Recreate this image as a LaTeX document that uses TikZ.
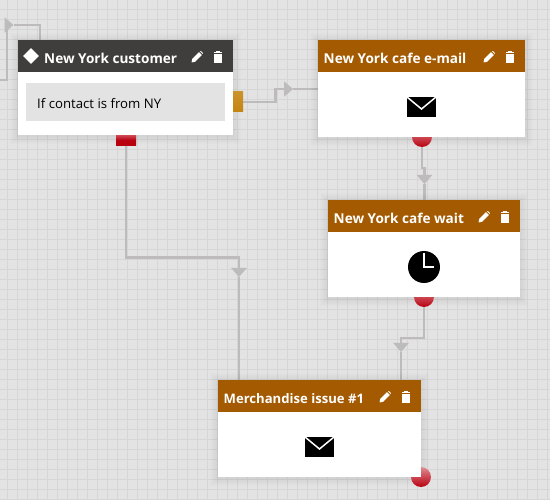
\documentclass[tikz,border=0pt]{standalone}
\usepackage{fontspec}
\setmainfont{Open Sans}
\usetikzlibrary{arrows.meta,shapes.geometric}
\definecolor{sheet}{HTML}{E3E3E3}
\definecolor{gridline}{HTML}{D6D6D6}
\definecolor{wiregray}{HTML}{BDBBBB}
\definecolor{headdark}{HTML}{403E3D}
\definecolor{headbrown}{HTML}{A45A00}
\definecolor{portred}{HTML}{B8000F}
\definecolor{portamber}{HTML}{C4840F}
\pgfdeclarelayer{back}
\pgfdeclarelayer{wires}
\pgfsetlayers{back,wires,main}
\tikzset{
  cardbody/.style={anchor=north west, fill=white, inner sep=0pt, minimum height=97pt},
  cardhead/.style={anchor=north west, inner sep=0pt, minimum height=32pt},
  cardtitle/.style={anchor=west, inner sep=0pt, text=white, font=\fontsize{13.6}{15}\selectfont\bfseries},
  roundport/.style={circle, inner sep=0pt, minimum size=20pt, top color=portred!45!white, bottom color=portred},
  wire/.style={draw=wiregray, line width=2.3pt},
  wiretip/.style={wire, -{Triangle[length=9pt,width=15pt]}},
  pics/pencil/.style={code={
    \fill[white] (-5.5,5.5) -- (-4.8,2) -- (2,-4.8) -- (4.8,-2) -- (-2,4.8) -- cycle;
    \fill[white] (2.9,-5.6) -- (3.9,-6) -- (6,-3.9) -- (5.6,-2.9) -- cycle;
  }},
  pics/trash/.style={code={
    \fill[white] (-3.7,-3.4) rectangle (3.7,6);
    \fill[white] (-4.4,-5.2) rectangle (4.4,-4.2);
    \fill[white] (-1.6,-6.2) rectangle (1.6,-5);
  }},
  pics/envelope/.style={code={
    \fill[black] (0,0) rectangle (29,20);
    \draw[white, line width=1.5pt] (0,0) -- (14.5,12) -- (29,0);
  }}
}
\newcommand{\cardshadow}[4]{%
  \foreach \grow in {1,2,...,8}
    \fill[black, opacity=0.009] (#1-\grow,#2-\grow+1) rectangle (#3+\grow,#4+\grow+1);
}
\begin{document}
\begin{tikzpicture}[x=1pt, y=-1pt]
  \useasboundingbox (0,0) rectangle (550,500);
  \begin{pgfonlayer}{back}
    \fill[sheet] (0,0) rectangle (550,500);
    \foreach \gx in {7.5,17.5,...,547.5}
      \draw[gridline, line width=1pt] (\gx,0) -- (\gx,500);
    \foreach \gy in {9.5,19.5,...,499.5}
      \draw[gridline, line width=1pt] (0,\gy) -- (550,\gy);
  \end{pgfonlayer}

  \cardshadow{18}{40}{233}{135}
  \cardshadow{318}{40}{525}{137}
  \cardshadow{328}{200}{520}{297}
  \cardshadow{218}{380}{421}{477}

  % ports
  \node (amberport) [rectangle, anchor=west, inner sep=0pt, minimum width=10pt, minimum height=20pt,
    top color=portamber!88!white, bottom color=portamber] at (233,102) {};
  \node (redport) [rectangle, anchor=north, inner sep=0pt, minimum width=20pt, minimum height=10pt,
    top color=portred!72!white, bottom color=portred, middle color=portred] at (126,135) {};
  \node (mailport) [roundport] at (422,137) {};
  \node (waitport) [roundport] at (424,297) {};
  \node (merchport) [roundport] at (421,477) {};

  % cards
  \node (customer) [cardbody, minimum width=215pt, minimum height=95pt] at (18,40) {};
  \node (customerhead) [cardhead, fill=headdark, minimum width=215pt] at (18,40) {};
  \node (customermark) [diamond, fill=white, inner sep=0pt, minimum size=16pt] at (31,56) {};
  \node (customertitle) [cardtitle] at (44,58.5) {New York customer};
  \node (rule) [anchor=north west, fill=sheet, inner sep=0pt, minimum width=199pt, minimum height=38pt] at (26,83) {};
  \node (ruletext) [anchor=west, inner sep=0pt, font=\fontsize{13.2}{15}\selectfont, text=black] at (37,103.5) {If contact is from NY};
  \pic at (197,57) {pencil};
  \pic at (218,57) {trash};

  \node (mailcafe) [cardbody, minimum width=207pt] at (318,40) {};
  \node (mailcafehead) [cardhead, fill=headbrown, minimum width=207pt] at (318,40) {};
  \node (mailcafetitle) [cardtitle] at (323.5,58.5) {New York cafe e-mail};
  \pic at (489,57) {pencil};
  \pic at (510,57) {trash};
  \pic at (407,97) {envelope};

  \node (waitcafe) [cardbody, minimum width=192pt] at (328,200) {};
  \node (waitcafehead) [cardhead, fill=headbrown, minimum width=192pt] at (328,200) {};
  \node (waitcafetitle) [cardtitle] at (333.5,218.5) {New York cafe wait};
  \pic at (484,217) {pencil};
  \pic at (505,217) {trash};
  \node (clockface) [circle, fill=black, inner sep=0pt, minimum size=32pt] at (424,267) {};
  \draw[white, line width=2pt] (424,253) -- (424,267) -- (434,267);

  \node (merch) [cardbody, minimum width=203pt] at (218,380) {};
  \node (merchhead) [cardhead, fill=headbrown, minimum width=203pt] at (218,380) {};
  \node (merchtitle) [cardtitle, font=\fontsize{13.1}{15}\selectfont\bfseries] at (223.5,398.5) {Merchandise issue \#1};
  \pic at (385,397) {pencil};
  \pic at (406,397) {trash};
  \pic at (305,437) {envelope};

  % connectors
  \coordinate (feed) at (0,80);
  \coordinate (custin) at (40,40);
  \coordinate (tipA) at (13.5,25);
  \coordinate (tipB) at (293,89);
  \coordinate (tipC) at (424.5,184);
  \coordinate (tipD) at (401,352);
  \coordinate (tipE) at (239,277);
  \begin{pgfonlayer}{wires}
    \draw[wiretip] (feed) -- ++(7,0) |- (tipA);
    \draw[wire] (tipA) -| (custin);
    \draw[wiretip] (amberport.east) -- ++(32,0) |- (tipB);
    \draw[wire] (tipB) -- (mailcafe.west |- tipB);
    \draw[wiretip] (mailport.south) -- ++(0,21) -| (tipC);
    \draw[wire] (tipC) -- (waitcafe.north -| tipC);
    \draw[wiretip] (waitport.south) -- ++(0,31) -| (tipD);
    \draw[wire] (tipD) -- (merch.north -| tipD);
    \draw[wiretip] (redport.south) -- ++(0,112) -| (tipE);
    \draw[wire] (tipE) -- (merch.north -| tipE);
  \end{pgfonlayer}
\end{tikzpicture}
\end{document}
